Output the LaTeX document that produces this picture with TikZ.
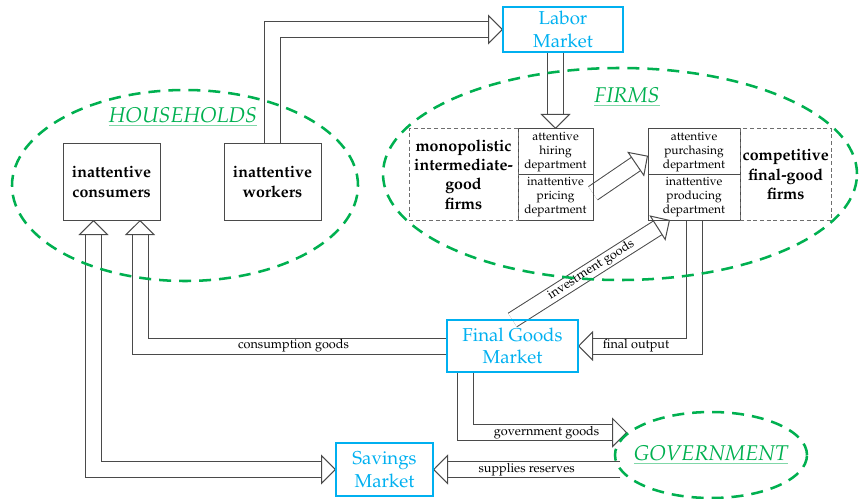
\documentclass[tikz,border=0pt]{standalone}
\usepackage[T1]{fontenc}
\usepackage{mathpazo}
\usepackage{xcolor}
\usepackage{tikz}
\usetikzlibrary{arrows.meta,positioning,shapes.geometric,backgrounds}
\definecolor{mktblue}{HTML}{00B0F0}
\definecolor{grpgreen}{HTML}{00B050}
\definecolor{linegray}{HTML}{4A4A4A}
\newcommand{\grptitle}[1]{{\color{grpgreen!50}\underline{\color{grpgreen}\itshape #1}}}
\tikzset{hollow/.tip={Triangle[length=11.25pt,width=22.5pt,line width=0.75pt,color=linegray,fill=white]}}

\begin{document}
\begin{tikzpicture}[
  x=0.75pt, y=-0.75pt,
  box/.style={draw=linegray,line width=0.75pt,outer sep=0pt,align=center,inner sep=2pt},
  agent/.style={box,minimum width=72.75pt,minimum height=57pt,font=\fontsize{12}{15}\selectfont\bfseries},
  dept/.style={box,minimum width=56.25pt,minimum height=34.125pt,font=\fontsize{9}{10.5}\selectfont,inner sep=1pt},
  firmbox/.style={box,draw=linegray!80,dash pattern=on 3pt off 2pt,minimum height=68.25pt,font=\fontsize{12}{14.5}\selectfont\bfseries},
  market/.style={draw=mktblue,line width=1.5pt,outer sep=0pt,text=mktblue,align=center,font=\fontsize{14}{17}\selectfont,inner sep=1pt},
  grpell/.style={ellipse,draw=grpgreen,line width=1.9pt,dash pattern=on 9pt off 6pt,inner sep=0pt},
  grplabel/.style={font=\fontsize{16}{19}\selectfont,inner sep=0pt},
  flowlabel/.style={font=\fontsize{9.5}{11}\selectfont,text=black,inner sep=0pt},
  fatarr/.style={draw=white,line width=0.1pt,-hollow,
    preaction={draw=linegray,line width=12.75pt,arrows=-,shorten >=10pt},
    preaction={draw=white,line width=11.25pt,arrows=-,shorten >=10pt}},
  fatdbl/.style={draw=white,line width=0.1pt,hollow-hollow,
    preaction={draw=linegray,line width=12.75pt,arrows=-,shorten >=10pt,shorten <=10pt},
    preaction={draw=white,line width=11.25pt,arrows=-,shorten >=10pt,shorten <=10pt}}
]
\useasboundingbox (0,0) rectangle (859,499);

% Groups
\node[grpell,minimum width=259.5pt,minimum height=143.25pt] (hh) at (185,185.5) {};
\node[grpell,minimum width=355.5pt,minimum height=159pt] (firms) at (620,174) {};
\node[grpell,minimum width=144pt,minimum height=64.5pt] (gov) at (711,455) {};
\node[grplabel] (hhlab) at (183,117) {\grptitle{HOUSEHOLDS}};
\node[grplabel] (firmlab) at (627,97) {\grptitle{FIRMS}};
\node[grplabel] (govlab) at (711,455) {\grptitle{GOVERNMENT}};

% Households
\node[agent] (cons) at (111.5,182) {inattentive\\consumers};
\node[agent] (work) at (272.5,182) {inattentive\\workers};

% Firms
\node[dept] (hire) at (555.5,151.75) {attentive\\hiring\\department};
\node[dept,below=0pt of hire] (price) {inattentive\\pricing\\department};
\node[firmbox,minimum width=81.75pt,anchor=north east] (monop) at (hire.north west) {monopolistic\\intermediate-\\good\\firms};
\node[dept,minimum width=69pt] (purch) at (694,151.75) {attentive\\purchasing\\department};
\node[dept,minimum width=69pt,below=0pt of purch] (prod) {inattentive\\producing\\department};
\node[firmbox,minimum width=68.25pt,anchor=north west] (comp) at (purch.north east) {competitive\\final-good\\firms};

% Markets
\node[market,minimum width=90pt,minimum height=33.75pt] (labor) at (563,29.5) {Labor\\Market};
\node[market,minimum width=98.25pt,minimum height=39pt] (fg) at (512.5,346) {Final Goods\\Market};
\node[market,minimum width=72.75pt,minimum height=39.75pt] (sav) at (384.5,469.5) {Savings\\Market};

% Flows
\begin{pgfonlayer}{background}
\draw[fatarr] (work.north) |- (labor.west);
\draw[fatarr] (labor.south -| hire.north) -- (hire.north);
\draw[fatarr] ([yshift=3pt]price.east) -- ([yshift=-3pt]purch.west);
\draw[fatarr] (fg.north) -- node[flowlabel,sloped] {investment goods} ([xshift=-18pt]prod.south);
\draw[fatarr] (prod.south) |- node[flowlabel,pos=0.75] {final output} (fg.east);
\draw[fatarr] (fg.west) -| node[flowlabel,pos=0.25] {consumption goods} ([xshift=21.4pt]cons.south);
\draw[fatarr] ([xshift=-34.9pt]fg.south) |- node[flowlabel,pos=0.75] {government goods} (gov.165);
\draw[fatarr] (sav.east -| gov.190) -- node[flowlabel] {supplies reserves} (sav.east);
\draw[fatdbl] ([xshift=-13.5pt]cons.south) |- (sav.west);
\end{pgfonlayer}

\end{tikzpicture}
\end{document}
